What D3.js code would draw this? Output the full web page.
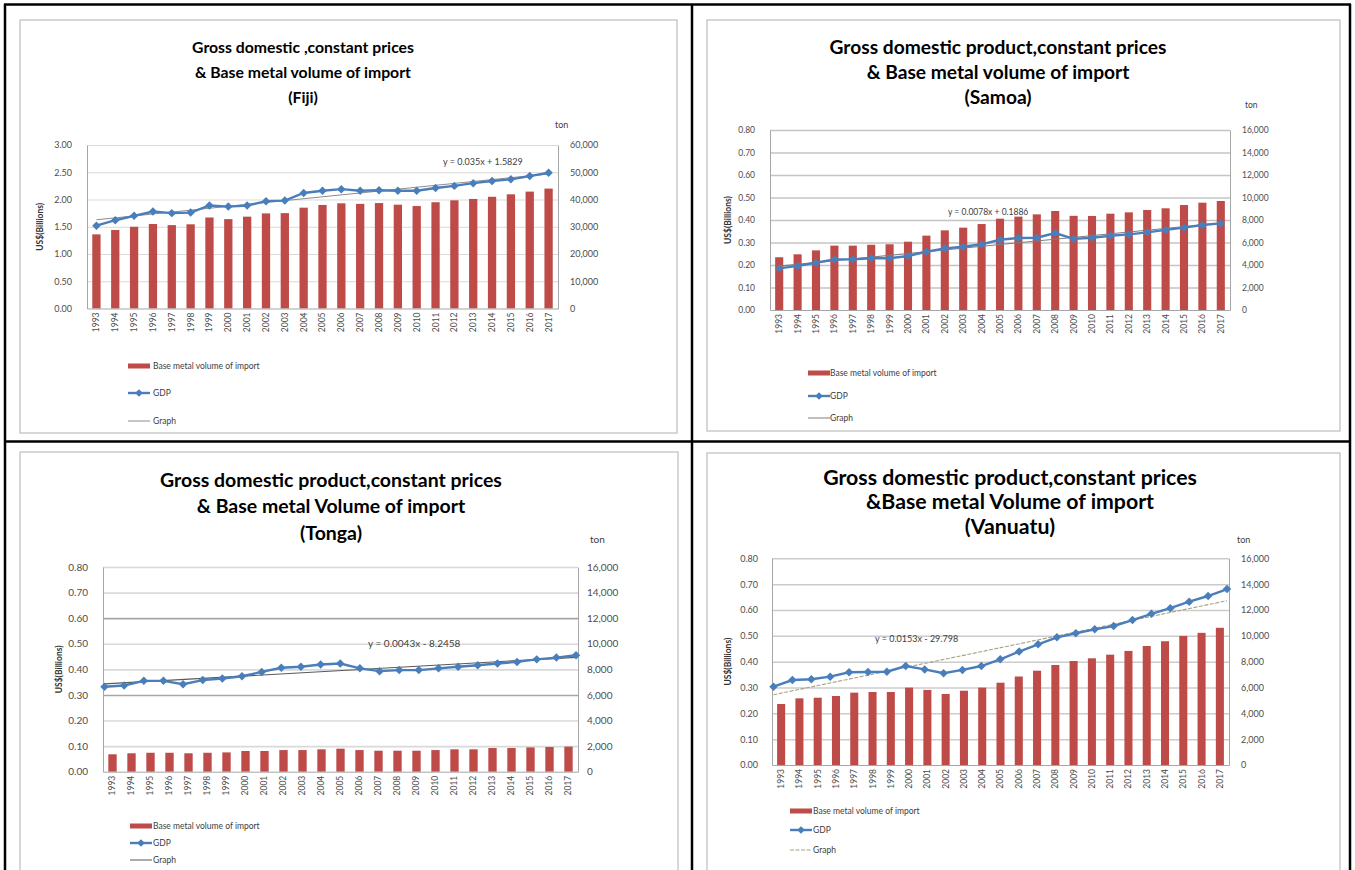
<!DOCTYPE html>
<html><head><meta charset="utf-8">
<script src="https://cdn.jsdelivr.net/npm/d3@7"></script>
<style>
body{margin:0;background:#fff}
svg{display:block;font-family:Lato,"Open Sans",sans-serif}
</style>
</head><body>
<svg id="c" width="1355" height="870"></svg>
<script>
// ---------------- DATA ----------------
const years = ["1993","1994","1995","1996","1997","1998","1999","2000","2001","2002","2003","2004","2005",
               "2006","2007","2008","2009","2010","2011","2012","2013","2014","2015","2016","2017"];

const fijiImport = [27200,28800,30000,31000,30600,30900,33400,32800,33700,34900,35000,37000,38000,
                    38600,38400,38700,38100,37600,39000,39700,40200,41000,41900,42900,44000];
const fijiGdp = [1.52,1.62,1.70,1.78,1.75,1.76,1.89,1.87,1.89,1.97,1.98,2.12,2.16,
                 2.19,2.16,2.17,2.16,2.16,2.21,2.25,2.30,2.34,2.37,2.43,2.49];

const samoaImport = [4690,4950,5300,5720,5720,5800,5840,6070,6610,7080,7320,7640,8120,
                     8300,8500,8800,8370,8360,8560,8680,8890,9040,9330,9540,9690];
const samoaGdp = [0.185,0.196,0.210,0.225,0.225,0.230,0.230,0.240,0.259,0.274,0.281,0.292,0.312,
                  0.320,0.321,0.342,0.316,0.321,0.330,0.336,0.345,0.356,0.366,0.378,0.385];

const tongaImport = [1360,1440,1480,1480,1440,1480,1510,1620,1620,1690,1690,1750,1800,
                     1690,1640,1640,1640,1690,1750,1750,1850,1850,1900,1930,1960];
const tongaGdp = [0.332,0.337,0.355,0.355,0.342,0.358,0.364,0.373,0.390,0.406,0.410,0.419,0.423,
                  0.404,0.393,0.397,0.397,0.404,0.410,0.416,0.423,0.429,0.439,0.446,0.455];

const vanuatuImport = [4720,5160,5210,5340,5600,5650,5650,5990,5810,5500,5750,5990,6370,
                       6850,7300,7740,8050,8260,8540,8830,9210,9580,9990,10230,10620];
const vanuatuGdp = [0.303,0.329,0.332,0.342,0.359,0.360,0.361,0.383,0.370,0.355,0.368,0.383,0.409,
                    0.439,0.467,0.494,0.510,0.525,0.538,0.561,0.585,0.607,0.632,0.654,0.681];

const fijiLeftTicks = [0,0.5,1,1.5,2,2.5,3];
const fijiRightTicks = [0,10000,20000,30000,40000,50000,60000];
const smallLeftTicks = [0,0.1,0.2,0.3,0.4,0.5,0.6,0.7,0.8];
const smallRightTicks = [0,2000,4000,6000,8000,10000,12000,14000,16000];

const fijiTitle = ["Gross domestic ,constant prices","& Base metal volume of import","(Fiji)"];
const samoaTitle = ["Gross domestic product,constant prices","& Base metal volume of  import","(Samoa)"];
const tongaTitle = ["Gross domestic product,constant prices","& Base metal Volume of import","(Tonga)"];
const vanuatuTitle = ["Gross domestic product,constant prices","&Base metal Volume of import","(Vanuatu)"];

const trendLabels = ["y = 0.035x + 1.5829","y = 0.0078x + 0.1886","y = 0.0043x - 8.2458","y = 0.0153x - 29.798"];
const legendLabels = ["Base metal volume of import","GDP","Graph"];
const leftAxisTitle = "US$(Billions)";
const rightAxisUnit = "ton";

// ---------------- LAYOUT ----------------
const svg = d3.select("#c");
const BAR = "#BE4B48", GDP = "#4A7EBB";

const panels = [
 {title:fijiTitle, bars:fijiImport, gdp:fijiGdp, lt:fijiLeftTicks, rt:fijiRightTicks, trend:trendLabels[0],
  frame:[20,20,677,433], plot:{x0:87,x1:558,y0:145,y1:308.5}, edge:false,
  tx:303, ty:[47,72,97], tw:222, ton:[555,128], tp:[443,165], lpad:15, rpad:12, atx:43, fs:9,
  grid:"#d9d9d9", gw:1, trendColor:"#8c8c8c", trendDash:null,
  leg:{x:128, ys:[366,393,421], tx:153}},
 {title:samoaTitle, bars:samoaImport, gdp:samoaGdp, lt:smallLeftTicks, rt:smallRightTicks, trend:trendLabels[1],
  frame:[707,20,1340,431], plot:{x0:770,x1:1230,y0:130,y1:310}, edge:false,
  tx:998, ty:[47,72,97], tw:337, ton:[1245,108], tp:[948,215], lpad:15, rpad:12, atx:731, fs:8.5,
  grid:"#c4c4c4", gw:1.5, trendColor:"#7f7f7f", trendDash:null,
  leg:{x:808, ys:[373,396,418], tx:830}},
 {title:tongaTitle, bars:tongaImport, gdp:tongaGdp, lt:smallLeftTicks, rt:smallRightTicks, trend:trendLabels[2],
  frame:[20,452,678,880], plot:{x0:103,x1:578,y0:567,y1:771.7}, edge:true,
  tx:331, ty:[480,506,533], tw:342, ton:[590,543], tp:[368,647], lpad:15, rpad:9, atx:62, fs:10,
  grid:"#d9d9d9", gw:1.6, dark:[0.3,0.6], trendColor:"#595959", trendDash:null,
  leg:{x:130, ys:[826,843,860], tx:153}},
 {title:vanuatuTitle, bars:vanuatuImport, gdp:vanuatuGdp, lt:smallLeftTicks, rt:smallRightTicks, trend:trendLabels[3],
  frame:[707,453,1340,880], plot:{x0:772,x1:1229,y0:558.3,y1:765}, edge:true,
  tx:1010, ty:[478,502,527], tw:374, ton:[1237,543], tp:[875,642], lpad:14, rpad:12, atx:731, fs:9,
  grid:"#cccccc", gw:1.5, trendColor:"#a8a084", trendDash:"4,1.5",
  leg:{x:790, ys:[811,830,850], tx:813}}
];

svg.append("rect").attr("width",1355).attr("height",870).attr("fill","#fff");

function diamond(sel, size){
  sel.attr("d", d3.symbol().type(d3.symbolSquare).size(size)()).attr("fill",GDP);
}

function drawPanel(p){
  const g = svg.append("g");
  const [fx0,fy0,fx1,fy1] = p.frame;
  g.append("rect").attr("x",fx0).attr("y",fy0).attr("width",fx1-fx0).attr("height",fy1-fy0)
    .attr("fill","#fff").attr("stroke","#c2c2c2").attr("stroke-width",1.3);

  const {x0,x1,y0,y1} = p.plot;
  const pad = 0.56;
  const xb = d3.scaleBand().domain(years).range([x0,x1]).paddingInner(pad).paddingOuter(pad/2);
  const xl = p.edge ? d3.scalePoint().domain(years).range([x0+1.5,x1-2])
                    : d3.scalePoint().domain(years).range([x0,x1]).padding(0.5);
  const yL = d3.scaleLinear().domain([0,d3.max(p.lt)]).range([y1,y0]);
  const yR = d3.scaleLinear().domain([0,d3.max(p.rt)]).range([y1,y0]);

  // gridlines
  const gg = g.append("g").attr("transform",`translate(${x0},0)`)
    .call(d3.axisLeft(yL).tickValues(p.lt.filter(v=>v>0)).tickSize(-(x1-x0)).tickFormat(""));
  gg.select(".domain").remove();
  gg.selectAll("line").attr("stroke",d => (p.dark && p.dark.some(v=>Math.abs(v-d)<1e-9)) ? "#a6a6a6" : p.grid)
    .attr("stroke-width",p.gw);

  // bars
  g.append("g").selectAll("rect").data(p.bars).join("rect")
    .attr("x",(d,i)=>xb(years[i])).attr("width",xb.bandwidth())
    .attr("y",d=>yR(d)).attr("height",d=>yR(0)-yR(d)).attr("fill",BAR);

  // axes
  const axL = g.append("g").attr("transform",`translate(${x0},0)`)
    .call(d3.axisLeft(yL).tickValues(p.lt).tickFormat(d3.format(".2f")).tickSize(0).tickPadding(p.lpad));
  const axR = g.append("g").attr("transform",`translate(${x1},0)`)
    .call(d3.axisRight(yR).tickValues(p.rt).tickFormat(d3.format(",")).tickSize(0).tickPadding(p.rpad));
  const axB = g.append("g").attr("transform",`translate(0,${y1})`)
    .call(d3.axisBottom(xb).tickSize(0).tickSizeOuter(0));
  [axL,axR,axB].forEach(a=>{
    a.select(".domain").attr("stroke","#a6a6a6").attr("stroke-width",1);
    a.selectAll("text").attr("fill","#4d4d4d").attr("font-size",p.fs).attr("font-family","Lato,sans-serif");
  });
  axB.selectAll("text").attr("transform","rotate(-90)").attr("text-anchor","end")
    .attr("x",-4).attr("y",0).attr("dy","0.35em").attr("font-size",8.5);

  // trend line (least squares on GDP)
  const n = p.gdp.length;
  const mx = d3.mean(p.gdp.map((d,i)=>i)), my = d3.mean(p.gdp);
  const slope = d3.sum(p.gdp.map((d,i)=>(i-mx)*(d-my))) / d3.sum(p.gdp.map((d,i)=>(i-mx)*(i-mx)));
  const icpt = my - slope*mx;
  const tl = g.append("line")
    .attr("x1",xl(years[0])).attr("y1",yL(icpt))
    .attr("x2",xl(years[n-1])).attr("y2",yL(icpt+slope*(n-1)))
    .attr("stroke",p.trendColor).attr("stroke-width",1.1);
  if(p.trendDash) tl.attr("stroke-dasharray",p.trendDash);

  // GDP line
  g.append("path").datum(p.gdp)
    .attr("d",d3.line().x((d,i)=>xl(years[i])).y(d=>yL(d)))
    .attr("fill","none").attr("stroke",GDP).attr("stroke-width",2.4);
  g.append("g").selectAll("path").data(p.gdp).join("path")
    .attr("transform",(d,i)=>`translate(${xl(years[i])},${yL(d)}) rotate(45)`)
    .call(diamond, 36);

  // trend label
  g.append("text").attr("x",p.tp[0]).attr("y",p.tp[1]).text(p.trend)
    .attr("font-size",p.fs).attr("fill","#404040");

  // titles
  const tt = g.append("g").attr("font-weight","bold").attr("fill","#000").attr("text-anchor","middle");
  const first = tt.append("text").attr("x",p.tx).attr("font-size",16).text(p.title[0]);
  const w = first.node().getComputedTextLength();
  const fsz = 16*p.tw/w;
  tt.selectAll("text").remove();
  p.title.forEach((t,i)=>{
    tt.append("text").attr("x",p.tx).attr("y",p.ty[i]).attr("dy","0.35em").attr("font-size",fsz).text(t);
  });

  // unit label and axis title
  g.append("text").attr("x",p.ton[0]).attr("y",p.ton[1]).text(rightAxisUnit)
    .attr("font-size",p.fs).attr("fill","#404040");
  g.append("text").attr("transform",`translate(${p.atx},${(y0+y1)/2}) rotate(-90)`)
    .attr("text-anchor","middle").attr("font-weight","bold").attr("font-size",8.5)
    .attr("fill","#333").text(leftAxisTitle);

  // legend
  const L = p.leg;
  const lg = g.append("g").attr("font-size",8.5).attr("fill","#404040");
  lg.append("rect").attr("x",L.x).attr("y",L.ys[0]-2.5).attr("width",22).attr("height",5).attr("fill",BAR);
  lg.append("line").attr("x1",L.x).attr("x2",L.x+22).attr("y1",L.ys[1]).attr("y2",L.ys[1])
    .attr("stroke",GDP).attr("stroke-width",2.4);
  lg.append("path").attr("transform",`translate(${L.x+11},${L.ys[1]}) rotate(45)`).call(diamond,30);
  const gl = lg.append("line").attr("x1",L.x).attr("x2",L.x+22).attr("y1",L.ys[2]).attr("y2",L.ys[2])
    .attr("stroke",p.trendColor).attr("stroke-width",1);
  if(p.trendDash) gl.attr("stroke-dasharray",p.trendDash);
  legendLabels.forEach((t,i)=>{
    lg.append("text").attr("x",L.tx).attr("y",L.ys[i]).attr("dy","0.35em").text(t);
  });
}

panels.forEach(drawPanel);

// table borders
const tb = svg.append("g").attr("stroke","#000").attr("stroke-width",2.5);
tb.append("line").attr("x1",4).attr("x2",1351).attr("y1",4.5).attr("y2",4.5);
tb.append("line").attr("x1",5).attr("x2",5).attr("y1",4).attr("y2",870);
tb.append("line").attr("x1",1350).attr("x2",1350).attr("y1",4).attr("y2",870);
tb.append("line").attr("x1",692).attr("x2",692).attr("y1",4).attr("y2",870);
tb.append("line").attr("x1",4).attr("x2",1351).attr("y1",441.5).attr("y2",441.5);
</script>
</body></html>
